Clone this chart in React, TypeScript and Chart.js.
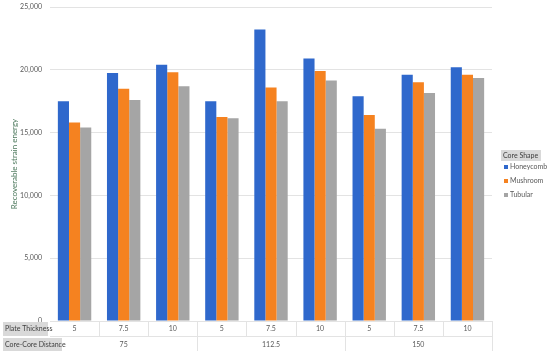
import React, { useEffect, useRef } from "react";
import { Chart, registerables } from "chart.js";

Chart.register(...registerables);

const plateThickness = ["5", "7.5", "10", "5", "7.5", "10", "5", "7.5", "10"];
const coreDistances = ["75", "112.5", "150"];
const honeycomb = [17500, 19750, 20400, 17500, 23200, 20900, 17900, 19600, 20200];
const mushroom = [15800, 18500, 19800, 16250, 18600, 19900, 16400, 19000, 19600];
const tubular = [15400, 17600, 18700, 16150, 17500, 19150, 15300, 18150, 19350];
const seriesNames = ["Honeycomb", "Mushroom", "Tubular"];
const seriesColors = ["#2F68CC", "#F58220", "#A5A5A5"];
const yTicks = [0, 5000, 10000, 15000, 20000, 25000];

const FONT = "Lato, 'Open Sans', sans-serif";

const tablePlugin = {
  id: "tablePlugin",
  afterDraw(chart: any) {
    const ctx = chart.ctx;
    const x = chart.scales.x;
    const area = chart.chartArea;
    const n = plateThickness.length;
    const step = (area.right - area.left) / n;
    const row1Top = area.bottom;
    const row1Bot = area.bottom + 15;
    const row2Bot = area.bottom + 30;
    ctx.save();
    ctx.strokeStyle = "#E3E3E3";
    ctx.lineWidth = 1;
    ctx.beginPath();
    ctx.moveTo(area.left, row1Top + 0.5);
    ctx.lineTo(area.right, row1Top + 0.5);
    ctx.moveTo(area.left, row1Bot + 0.5);
    ctx.lineTo(area.right, row1Bot + 0.5);
    for (let i = 1; i <= n; i++) {
      const xx = Math.round(area.left + step * i) + 0.5;
      const isGroup = i % 3 === 0;
      ctx.moveTo(xx, row1Top);
      ctx.lineTo(xx, isGroup ? row2Bot : row1Bot);
    }
    ctx.stroke();
    ctx.fillStyle = "#D9D9D9";
    ctx.fillRect(3, row1Top + 1, 45, 14);
    ctx.fillRect(3, row1Bot + 2, 59, 13);
    ctx.fillStyle = "#404040";
    ctx.font = `7px ${FONT}`;
    ctx.textBaseline = "middle";
    ctx.textAlign = "left";
    ctx.fillText("Plate Thickness", 5, row1Top + 8);
    ctx.fillText("Core-Core Distance", 5, row1Bot + 8.5);
    ctx.fillStyle = "#595959";
    ctx.textAlign = "center";
    for (let i = 0; i < n; i++) {
      ctx.fillText(plateThickness[i], x.getPixelForValue(i), row1Top + 8);
    }
    for (let g = 0; g < coreDistances.length; g++) {
      const cx = (x.getPixelForValue(g * 3) + x.getPixelForValue(g * 3 + 2)) / 2;
      ctx.fillText(coreDistances[g], cx, row1Bot + 8.5);
    }
    const lx = 501;
    ctx.fillStyle = "#D9D9D9";
    ctx.fillRect(lx, 150, 40, 11);
    ctx.fillStyle = "#404040";
    ctx.textAlign = "left";
    ctx.fillText("Core Shape", lx + 2, 155.5);
    for (let s = 0; s < seriesNames.length; s++) {
      const yy = 167 + s * 14;
      ctx.fillStyle = seriesColors[s];
      ctx.fillRect(lx + 3, yy - 2, 4, 4);
      ctx.fillStyle = "#595959";
      ctx.fillText(seriesNames[s], lx + 9, yy);
    }
    ctx.restore();
  },
};

export default function App() {
  const ref = useRef<HTMLCanvasElement>(null);
  useEffect(() => {
    if (!ref.current) return;
    const chart = new Chart(ref.current, {
      type: "bar",
      data: {
        labels: plateThickness.map((p, i) => `${coreDistances[Math.floor(i / 3)]}-${p}`),
        datasets: [honeycomb, mushroom, tubular].map((d, i) => ({
          label: seriesNames[i],
          data: d,
          backgroundColor: seriesColors[i],
          borderWidth: 0,
          barPercentage: 1,
          categoryPercentage: 0.68,
        })),
      },
      options: {
        animation: false,
        responsive: false,
        maintainAspectRatio: false,
        layout: { padding: { top: 7, right: 58, bottom: 33, left: 0 } },
        plugins: { legend: { display: false }, tooltip: { enabled: false } },
        scales: {
          x: { display: false },
          y: {
            min: 0,
            max: 25000,
            afterFit: (s: any) => {
              s.width = 50;
              s.paddingTop = 0;
              s.paddingBottom = 0;
            },
            afterBuildTicks: (s: any) => {
              s.ticks = yTicks.map((v) => ({ value: v }));
            },
            ticks: {
              color: "#595959",
              font: { size: 7, family: FONT },
              padding: 8,
              callback: (v: any) => Number(v).toLocaleString("en-US"),
            },
            grid: { color: "#E3E3E3", drawTicks: false },
            border: { display: false },
            title: {
              display: true,
              text: "Recoverable strain energy",
              color: "#4E7A5E",
              font: { size: 8, family: FONT },
              padding: { top: 10, bottom: 0 },
            },
          },
        },
      },
      plugins: [tablePlugin],
    });
    return () => chart.destroy();
  }, []);
  return (
    <div style={{ position: "fixed", left: 0, top: 0, width: 550, height: 354, background: "#fff" }}>
      <canvas ref={ref} width={550} height={354} style={{ width: 550, height: 354 }} />
    </div>
  );
}
